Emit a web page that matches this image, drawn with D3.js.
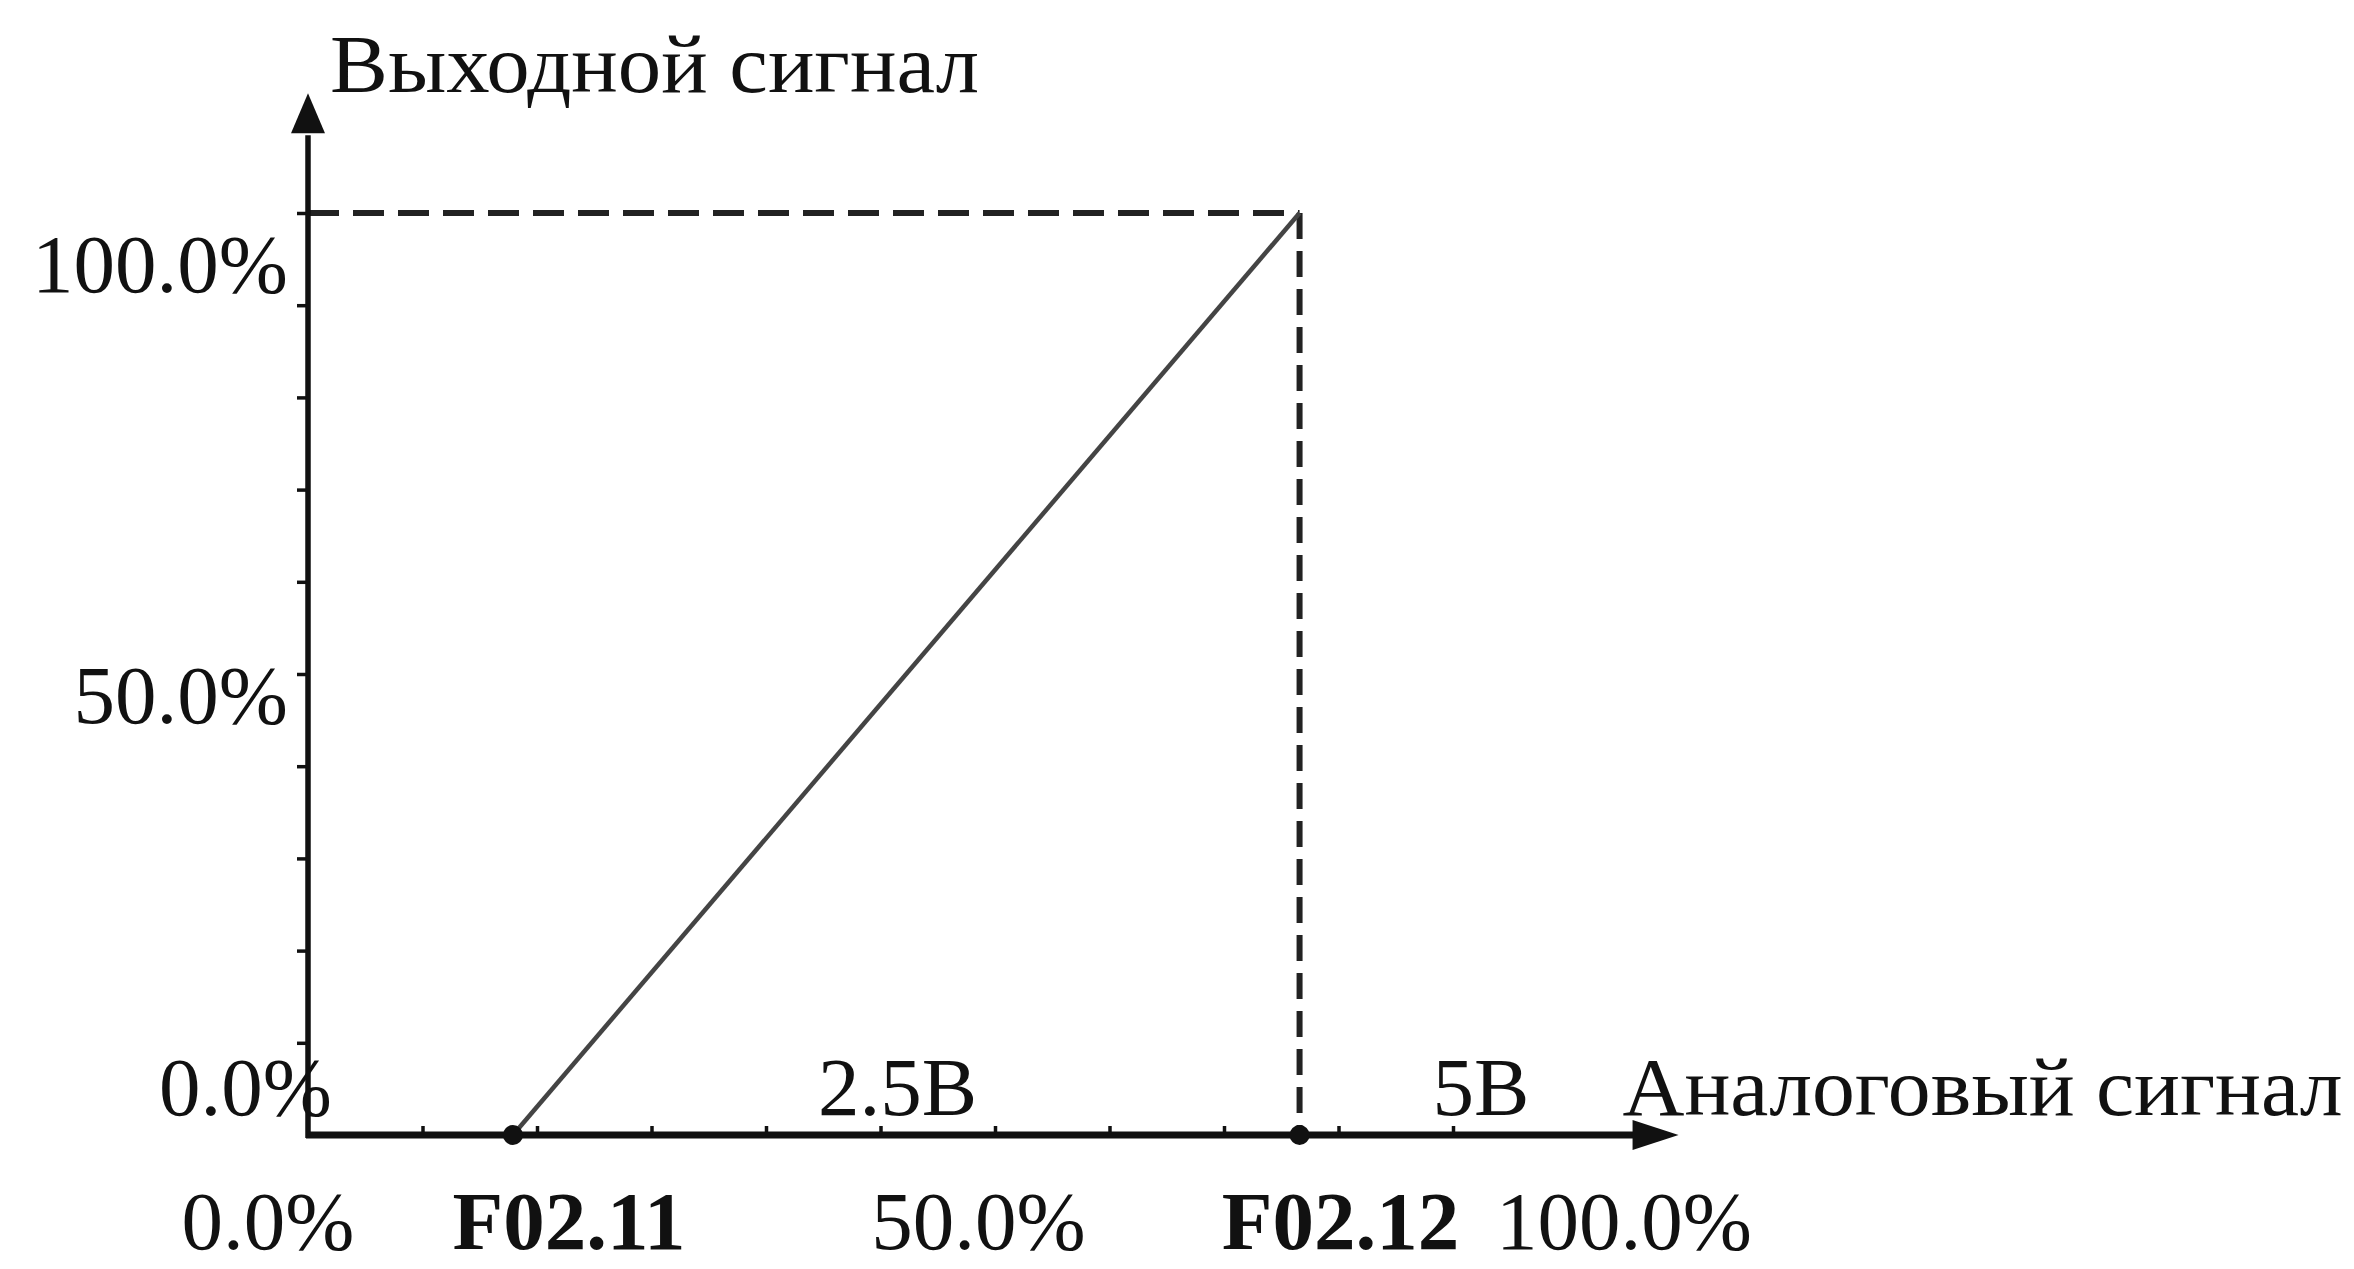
<!DOCTYPE html>
<html>
<head>
<meta charset="utf-8">
<script src="https://cdn.jsdelivr.net/npm/d3@7"></script>
<style>
  body { margin: 0; background: #fff; }
  text { font-family: "Liberation Serif", "DejaVu Serif", serif; fill: #111; }
</style>
</head>
<body>
<svg id="chart" width="2354" height="1269"></svg>
<script>
// Analog input (percent of range) mapped linearly to output signal (percent)
const inputPoints = [17.9, 86.6];     // F02.11 and F02.12 settings
const outputPoints = [0, 100];        // output at those settings
const xTickValues = d3.range(10, 101, 10);
const yTickValues = d3.range(10, 101, 10);
const yLabels = ["100.0%", "50.0%", "0.0%"];
const yLabelValues = [100, 50, 0];
const voltLabels = ["2.5В", "5В"];
const voltValues = [50, 100];
const bottomLabels = ["0.0%", "F02.11", "50.0%", "F02.12", "100.0%"];
const bottomValues = [0, 17.9, 50, 86.6, 100];
const bottomBold = [false, true, false, true, false];
const yTitle = "Выходной сигнал";
const xTitle = "Аналоговый сигнал";

const svg = d3.select("#chart");
const fontSize = 83;

const x = d3.scaleLinear().domain([0, 100]).range([308, 1453]);
const y = d3.scaleLinear().domain([0, 100]).range([1135, 213]);
const xAxisEnd = 119.7;   // axis runs past 100% to the arrow tip
const yAxisEnd = 113;

const ink = "#111";

// dashed guides to the top-right corner of the linear segment
const cx = x(inputPoints[1]), cy = y(outputPoints[1]);
svg.append("line")
  .attr("x1", x(0)).attr("x2", cx).attr("y1", cy).attr("y2", cy)
  .attr("stroke", "#222").attr("stroke-width", 6).attr("stroke-dasharray", "31,14");
svg.append("line")
  .attr("x1", cx).attr("x2", cx).attr("y1", cy).attr("y2", y(0))
  .attr("stroke", "#222").attr("stroke-width", 6).attr("stroke-dasharray", "26,12");

// tick marks
const xAxis = svg.append("g").attr("transform", `translate(0,${y(0)})`)
  .call(d3.axisTop(x).tickValues(xTickValues).tickSize(9).tickFormat(""));
const yAxis = svg.append("g").attr("transform", `translate(${x(0)},0)`)
  .call(d3.axisLeft(y).tickValues(yTickValues).tickSize(11).tickFormat(""));
[xAxis, yAxis].forEach(g => {
  g.select(".domain").remove();
  g.selectAll(".tick line").attr("stroke", ink).attr("stroke-width", 3.5);
});

// axis lines with arrowheads
const arrowLen = 46, arrowHalf = 15;
svg.append("line")
  .attr("x1", x(0) - 2).attr("x2", x(xAxisEnd) - arrowLen + 4)
  .attr("y1", y(0)).attr("y2", y(0))
  .attr("stroke", ink).attr("stroke-width", 7);
svg.append("path")
  .attr("d", `M${x(xAxisEnd)},${y(0)} L${x(xAxisEnd) - arrowLen},${y(0) - arrowHalf} L${x(xAxisEnd) - arrowLen},${y(0) + arrowHalf} Z`)
  .attr("fill", ink);
svg.append("line")
  .attr("x1", x(0)).attr("x2", x(0))
  .attr("y1", y(0) + 3).attr("y2", y(yAxisEnd) + arrowLen - 4)
  .attr("stroke", ink).attr("stroke-width", 5.5);
svg.append("path")
  .attr("d", `M${x(0)},${y(yAxisEnd)} L${x(0) - arrowHalf - 2},${y(yAxisEnd) + 40} L${x(0) + arrowHalf + 2},${y(yAxisEnd) + 40} Z`)
  .attr("fill", ink);

// transfer line
const line = d3.line().x(d => x(d[0])).y(d => y(d[1]));
svg.append("path")
  .datum(d3.zip(inputPoints, outputPoints))
  .attr("d", line)
  .attr("fill", "none").attr("stroke", "#444").attr("stroke-width", 4.5);

// endpoint markers on the input axis
svg.selectAll("circle.pt").data(inputPoints).join("circle")
  .attr("class", "pt")
  .attr("cx", d => x(d)).attr("cy", y(0)).attr("r", 10)
  .attr("fill", ink);

// y labels
const yNudge = [[-20, 79], [-20, 49], [24, -20]];
svg.selectAll("text.ylab").data(yLabels).join("text")
  .attr("class", "ylab")
  .attr("x", (d, i) => x(0) + yNudge[i][0])
  .attr("y", (d, i) => y(yLabelValues[i]) + yNudge[i][1])
  .attr("text-anchor", "end")
  .attr("font-size", fontSize)
  .text(d => d);

// voltage labels above the input axis
const voltNudge = [17, 28];
svg.selectAll("text.volt").data(voltLabels).join("text")
  .attr("class", "volt")
  .attr("x", (d, i) => x(voltValues[i]) + voltNudge[i])
  .attr("y", y(0) - 20)
  .attr("text-anchor", "middle")
  .attr("font-size", fontSize)
  .text(d => d);

// percentage / parameter labels under the input axis
const bottomNudge = [-40, 56, 98, 41, 171];
svg.selectAll("text.bot").data(bottomLabels).join("text")
  .attr("class", "bot")
  .attr("x", (d, i) => x(bottomValues[i]) + bottomNudge[i])
  .attr("y", y(0) + 114)
  .attr("text-anchor", "middle")
  .attr("font-size", fontSize)
  .attr("font-weight", (d, i) => bottomBold[i] ? "bold" : "normal")
  .text(d => d);

// axis titles
svg.append("text")
  .attr("x", x(0) + 22).attr("y", y(yAxisEnd) - 1)
  .attr("font-size", fontSize)
  .attr("textLength", 649).attr("lengthAdjust", "spacingAndGlyphs")
  .text(yTitle);
svg.append("text")
  .attr("x", x(xAxisEnd) - 56).attr("y", y(0) - 20)
  .attr("font-size", fontSize)
  .attr("textLength", 720).attr("lengthAdjust", "spacingAndGlyphs")
  .text(xTitle);
</script>
</body>
</html>
